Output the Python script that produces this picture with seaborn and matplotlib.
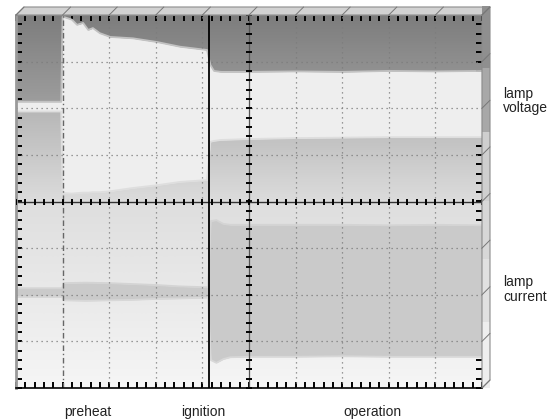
import numpy as np
import matplotlib
matplotlib.use("Agg")
import matplotlib.pyplot as plt
from matplotlib.patches import Polygon
import seaborn as sns

sns.set_theme(style="white")
plt.rcParams['font.family'] = ['Liberation Sans', 'DejaVu Sans']

# Time axis in screen divisions (10 across), amplitude in divisions (8 high)
# Lamp voltage envelope (upper half of the screen)
voltage_t = [0.0, 0.97, 1.0, 1.05, 1.2, 1.31, 1.44, 1.55, 1.65, 1.8, 2.02, 2.51, 3.03, 3.52, 4.1,
             4.17, 4.25, 4.4, 5.0, 6.0, 7.0, 8.0, 9.0, 10.0]
voltage_hi = [2.14, 2.14, 3.96, 3.95, 3.9, 3.79, 3.83, 3.68, 3.72, 3.61, 3.53, 3.5, 3.42, 3.32, 3.25,
              2.93, 2.80, 2.78, 2.78, 2.79, 2.78, 2.80, 2.79, 2.80]
voltage_lo = [1.93, 1.93, 0.18, 0.18, 0.17, 0.18, 0.19, 0.19, 0.2, 0.2, 0.22, 0.29, 0.35, 0.42, 0.46,
              1.28, 1.30, 1.32, 1.34, 1.36, 1.37, 1.38, 1.38, 1.38]

# Lamp current envelope (lower half of the screen)
current_t = [0.0, 0.99, 1.02, 1.5, 2.0, 2.5, 3.0, 3.5, 4.12, 4.18, 4.3, 4.45, 4.6, 5.0, 6.0, 7.0,
             8.0, 9.0, 10.0]
current_hi = [-1.86, -1.86, -1.75, -1.74, -1.75, -1.77, -1.79, -1.82, -1.84, -0.42, -0.40, -0.48,
              -0.50, -0.50, -0.50, -0.50, -0.51, -0.50, -0.51]
current_lo = [-2.05, -2.05, -2.12, -2.13, -2.12, -2.11, -2.09, -2.08, -2.06, -3.40, -3.46, -3.38,
              -3.34, -3.33, -3.33, -3.32, -3.33, -3.33, -3.33]

ignition_t = 4.15
phase_labels = ["preheat", "ignition", "operation"]
phase_pos = [1.54, 4.02, 7.64]
channel_labels = ["lamp\nvoltage", "lamp\ncurrent"]
channel_pos = [2.46, -1.58]

fig = plt.figure(figsize=(5.6, 4.19), dpi=100)
ax = fig.add_axes([16 / 560, 31 / 419, 466 / 560, 373 / 419])

# screen backgrounds (vertical gradients)
def grad(a, b, n=64):
    return np.linspace(a, b, n)[:, None]

kw = dict(cmap='gray', vmin=0, vmax=1, aspect='auto', interpolation='bicubic', zorder=0)
ax.imshow(grad(0.49, 0.62), extent=[0, 10, 2.05, 4], **kw)
ax.imshow(grad(0.71, 0.86), extent=[0, 10, 0, 2.05], **kw)
ax.imshow(grad(0.87, 0.96), extent=[0, 10, -4, 0], **kw)

# envelopes
ax.fill_between(voltage_t, voltage_lo, voltage_hi, color='#eeeeee', lw=0, zorder=1)
ax.fill_between(current_t, current_lo, current_hi, color='#cacaca', lw=0, zorder=1)
sns.lineplot(x=voltage_t, y=voltage_hi, color='#c2c2c2', lw=1.3, sort=False, estimator=None, ax=ax, zorder=1)
sns.lineplot(x=voltage_t, y=voltage_lo, color='#dedede', lw=1.3, sort=False, estimator=None, ax=ax, zorder=1)
sns.lineplot(x=current_t, y=current_hi, color='#d4d4d4', lw=1.3, sort=False, estimator=None, ax=ax, zorder=1)
sns.lineplot(x=current_t, y=current_lo, color='#d8d8d8', lw=1.3, sort=False, estimator=None, ax=ax, zorder=1)

# graticule
for t in [2, 3, 4, 6, 7, 8, 9]:
    ax.axvline(t, color='#7c7c7c', ls=(0, (1, 3)), lw=0.9, zorder=2)
for y in [-3, -2, -1, 1, 2, 3]:
    ax.axhline(y, color='#7c7c7c', ls=(0, (1, 3)), lw=0.9, zorder=2)
ax.axvline(1, color='#666666', ls=(0, (4, 2, 1, 2)), lw=1.0, zorder=2)
ax.axvline(5, color='#555555', lw=0.9, zorder=2)
ax.axhline(0, color='#333333', lw=1.0, zorder=2)
ax.axvline(ignition_t, color='black', lw=1.3, zorder=3)

minor_x = np.arange(0, 10.001, 0.2)
minor_y = np.arange(-4, 4.001, 0.2)
ax.plot(minor_x, np.zeros_like(minor_x), marker='|', ms=4, mew=1.4, ls='none', color='black', zorder=3)
ax.plot(np.full_like(minor_y, 5.0), minor_y, marker='_', ms=4, mew=1.4, ls='none', color='black', zorder=3)

ax.set_xlim(0, 10)
ax.set_ylim(-4, 4)
ax.set_xticks(minor_x)
ax.set_yticks(minor_y)
ax.tick_params(axis='both', direction='in', length=4.3, width=1.4, color='black',
               top=True, right=True, bottom=True, left=True, labelbottom=False, labelleft=False)
ax.grid(False)
ax.spines['left'].set_color('#9a9a9a')
ax.spines['left'].set_linewidth(2)
ax.spines['bottom'].set_color('black')
ax.spines['bottom'].set_linewidth(1.2)
for s in ['top', 'right']:
    ax.spines[s].set_color('#8a8a8a')
    ax.spines[s].set_linewidth(0.8)

# 3D bezel
d = 8 / 46.6
top = Polygon([(0, 4), (d, 4 + d), (10 + d, 4 + d), (10, 4)], closed=True, facecolor='#d2d2d2',
              edgecolor='#8c8c8c', lw=0.8, clip_on=False, zorder=5)
ax.add_patch(top)
side = Polygon([(10, 4), (10 + d, 4 + d), (10 + d, -4 + d), (10, -4)], closed=True, facecolor='none',
               edgecolor='#8c8c8c', lw=0.8, clip_on=False, zorder=6)
ax.add_patch(side)
yy = np.linspace(4 + d, -4, 300)
band = np.select([yy > 2.85, yy > 1.47, yy > 0, yy > -1.25, yy > -2.6],
                 [0.56, 0.66, 0.81, 0.84, 0.88], 0.93)[:, None]
im = ax.imshow(band, extent=[10, 10 + d, -4, 4 + d], cmap='gray', vmin=0, vmax=1,
               aspect='auto', interpolation='nearest', zorder=5, clip_on=False)
im.set_clip_path(side)
for t in range(11):
    ax.plot([t, t + d], [4, 4 + d], color='#777777', lw=0.7, clip_on=False, zorder=6)
for y in range(-4, 5):
    ax.plot([10, 10 + d], [y, y + d], color='#777777', lw=0.7, clip_on=False, zorder=6)

# labels
for lab, y in zip(channel_labels, channel_pos):
    ax.text(10.45, y, lab, ha='left', va='top', fontsize=10, color='#222222',
            linespacing=1.05, clip_on=False)
for lab, x in zip(phase_labels, phase_pos):
    ax.text(x, -4.37, lab, ha='center', va='top', fontsize=10, color='#222222', clip_on=False)

fig.savefig("out.png", dpi=100)
